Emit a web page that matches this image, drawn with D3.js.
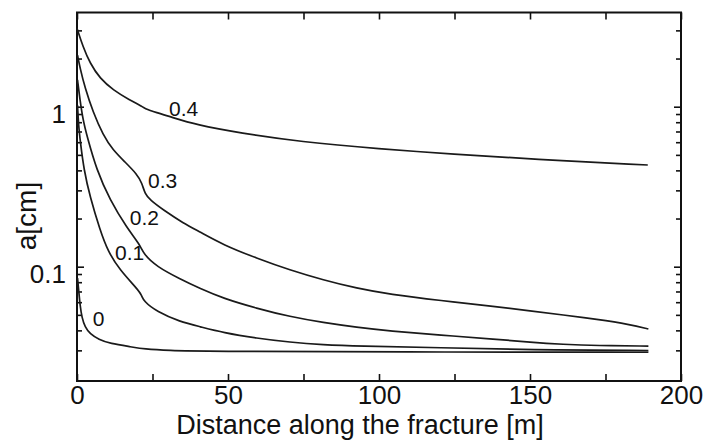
<!DOCTYPE html>
<html>
<head>
<meta charset="utf-8">
<script src="https://cdn.jsdelivr.net/npm/d3@7/dist/d3.min.js"></script>
<style>
  html, body { margin: 0; padding: 0; background: #fff; }
  svg { display: block; font-family: "Liberation Sans", Arial, sans-serif; }
</style>
</head>
<body>
<svg id="chart" width="708" height="440"></svg>
<script>
// ---- data (distance [m], aperture a [cm]) ----
const series04 = [[0,3.09],[2,2.37],[4.3,1.87],[7.6,1.50],[12,1.27],[17.5,1.10],[21.4,1.01],[22.2,0.977],[26.4,0.917],[30.8,0.866],[39.6,0.769],[54.0,0.685],[73.8,0.604],[100.3,0.544],[124.5,0.506],[151,0.469],[189,0.432]];
const series03 = [[0.17,2.10],[1.0,1.75],[2.65,1.31],[5.3,0.927],[8.6,0.666],[11.9,0.536],[15.9,0.451],[19.8,0.380],[21.5,0.334],[22.5,0.285],[24.2,0.261],[28.6,0.226],[35.2,0.187],[40.7,0.165],[48.4,0.137],[59.5,0.113],[70.5,0.0953],[81.6,0.0826],[92.6,0.0733],[103.6,0.0672],[120.2,0.0615],[139.0,0.0562],[150.0,0.0530],[161.0,0.0499],[172.1,0.0469],[183.1,0.0436],[189.2,0.0408]];
const series02 = [[0.17,1.47],[1.0,1.10],[2.0,0.826],[3.3,0.656],[6.5,0.402],[10.9,0.261],[16.5,0.175],[20.9,0.137],[22.0,0.120],[26.4,0.100],[34.1,0.0838],[40.7,0.0731],[48.4,0.0634],[59.5,0.0549],[70.5,0.0487],[81.6,0.0447],[92.6,0.0418],[103.6,0.0396],[120.2,0.0374],[139,0.0352],[150,0.0337],[161,0.0327],[172.1,0.0321],[189.2,0.0319]];
const series01 = [[0.17,1.02],[0.5,0.769],[1.1,0.604],[2.3,0.402],[4.3,0.274],[7.6,0.170],[10.3,0.124],[14.2,0.0953],[19.8,0.0733],[21.4,0.0666],[22.0,0.0610],[26.4,0.0524],[34.1,0.0453],[40.7,0.0422],[48.4,0.0387],[59.5,0.0357],[70.5,0.0337],[81.6,0.0325],[92.6,0.0319],[120.2,0.0312],[150,0.0302],[189.2,0.0299]];
const series00 = [[0.17,0.085],[0.56,0.0715],[1.0,0.0575],[1.66,0.0478],[2.65,0.042],[4.3,0.0380],[7.2,0.0351],[10.9,0.0331],[18.2,0.0315],[22.0,0.0306],[30.8,0.0299],[40.7,0.0296],[107,0.0293],[189.2,0.0292]];

const seriesNames = ["0.4", "0.3", "0.2", "0.1", "0"];
const seriesData = [series04, series03, series02, series01, series00];
// label anchor (distance, a) for each curve label
const labelDist = [30.5, 23.5, 17.5, 12.6, 5.2];
const labelA = [0.875, 0.31, 0.182, 0.110, 0.0426];

const xTicks = [0, 25, 50, 75, 100, 125, 150, 175, 200];
const xLabelTicks = [0, 50, 100, 150, 200];
const yMajorTicks = [0.1, 1];
const yMinorTicks = [0.03, 0.04, 0.05, 0.06, 0.07, 0.08, 0.09, 0.2, 0.3, 0.4, 0.5, 0.6, 0.7, 0.8, 0.9, 2, 3];
const xTitle = "Distance along the fracture [m]";
const yTitle = "a[cm]";

// ---- layout ----
const svg = d3.select("#chart");
const L = 77, R = 681, T = 12.5, B = 381;

const x = d3.scaleLinear().domain([0, 200]).range([L, R]);
const y = d3.scaleLog().domain([0.0193, 3.88]).range([B, T]);

// ticks: bottom
const gB = svg.append("g").attr("transform", `translate(0,${B})`)
  .call(d3.axisBottom(x).tickValues(xTicks).tickSize(-7).tickPadding(5)
    .tickFormat(d => xLabelTicks.includes(d) ? String(d) : ""));
// top
svg.append("g").attr("transform", `translate(0,${T})`)
  .call(d3.axisTop(x).tickValues(xTicks).tickSize(-7).tickFormat(() => ""));
// left major + minor
const gL = svg.append("g").attr("transform", `translate(${L},0)`)
  .call(d3.axisLeft(y).tickValues(yMajorTicks).tickSize(-7).tickPadding(11)
    .tickFormat(d => d === 1 ? "1" : "0.1"));
svg.append("g").attr("transform", `translate(${L},0)`)
  .call(d3.axisLeft(y).tickValues(yMinorTicks).tickSize(-5).tickFormat(() => ""));
// right major + minor
svg.append("g").attr("transform", `translate(${R},0)`)
  .call(d3.axisRight(y).tickValues(yMajorTicks).tickSize(-7).tickFormat(() => ""));
svg.append("g").attr("transform", `translate(${R},0)`)
  .call(d3.axisRight(y).tickValues(yMinorTicks).tickSize(-5).tickFormat(() => ""));

svg.selectAll(".domain").remove();
svg.selectAll(".tick line").attr("stroke", "#111").attr("stroke-width", 1.6);

gB.selectAll("text").attr("font-size", 26).attr("fill", "#111")
  .attr("font-family", "Liberation Sans, Arial, sans-serif");
gL.selectAll("text").attr("font-size", 26).attr("fill", "#111")
  .attr("dy", "0.62em")
  .attr("font-family", "Liberation Sans, Arial, sans-serif");

// frame
svg.append("rect")
  .attr("x", L).attr("y", T)
  .attr("width", R - L).attr("height", B - T)
  .attr("fill", "none").attr("stroke", "#111").attr("stroke-width", 2);

// curves
const line = d3.line()
  .x(d => x(d[0]))
  .y(d => y(d[1]))
  .curve(d3.curveBasis);

svg.append("g").selectAll("path")
  .data(seriesData)
  .join("path")
  .attr("d", line)
  .attr("fill", "none")
  .attr("stroke", "#1a1a1a")
  .attr("stroke-width", 1.7);

// curve labels
svg.append("g").selectAll("text")
  .data(seriesNames)
  .join("text")
  .attr("x", (d, i) => x(labelDist[i]))
  .attr("y", (d, i) => y(labelA[i]))
  .attr("font-size", 21)
  .attr("fill", "#111")
  .text(d => d);

// axis titles
svg.append("text")
  .attr("x", 360).attr("y", 434)
  .attr("text-anchor", "middle")
  .attr("font-size", 27)
  .attr("fill", "#111")
  .text(xTitle);

svg.append("text")
  .attr("transform", "translate(36,216) rotate(-90)")
  .attr("text-anchor", "middle")
  .attr("font-size", 28)
  .attr("fill", "#111")
  .text(yTitle);
</script>
</body>
</html>
